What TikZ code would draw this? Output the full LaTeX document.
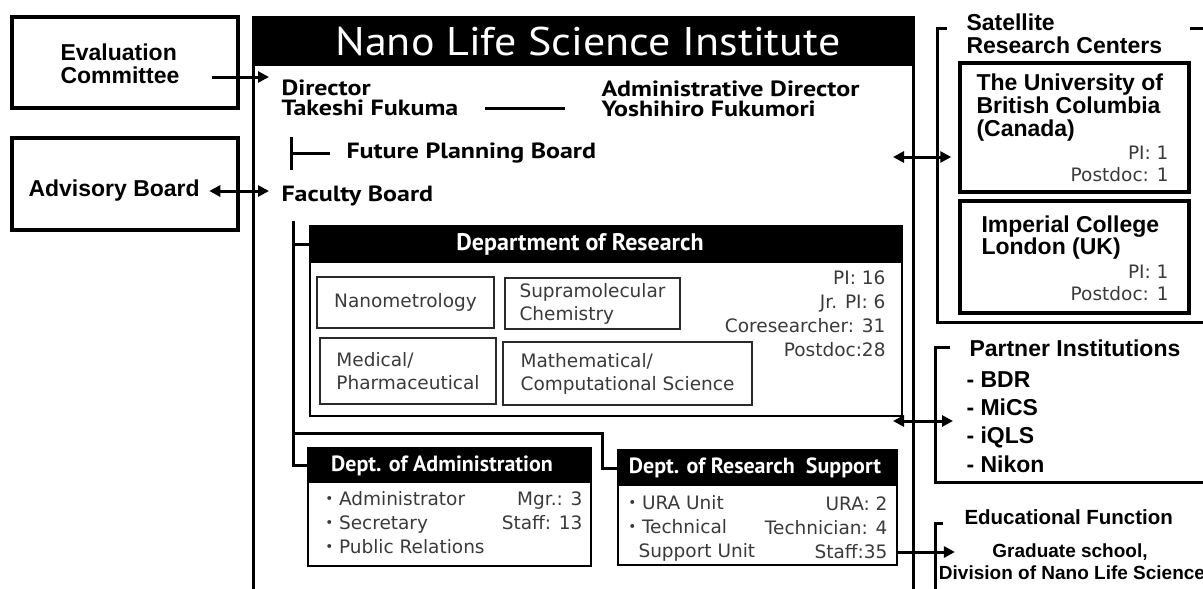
\documentclass[tikz,border=0pt]{standalone}
\usepackage{fontspec}
\setmainfont{DejaVu Sans}
\newfontfamily\headfont{PT Sans}
\newfontfamily\widefont{PT Sans}[FakeStretch=1.18]
\newfontfamily\titlefont{PT Sans}[FakeStretch=1.1]
\newfontfamily\arialfont{Liberation Sans}
\newfontfamily\cjk{Noto Sans CJK JP}
\usetikzlibrary{positioning, arrows.meta}
\definecolor{txtgray}{HTML}{3A3A3A}
\definecolor{linegray}{HTML}{2A2A2A}

\begin{document}
\begin{tikzpicture}[x=1pt, y=-1pt, line width=3pt,
  arr/.style={-{Triangle[length=11pt, width=11pt]}},
  arrboth/.style={{Triangle[length=11pt, width=11pt]}-{Triangle[length=11pt, width=11pt]}},
  outbox/.style={draw, line width=3.5pt, inner sep=0pt},
  deptbox/.style={draw, line width=2pt, inner sep=0pt},
  unitbox/.style={draw=linegray, line width=2pt, inner sep=0pt, text=txtgray, align=left,
    font=\fontsize{18.5}{23}\selectfont},
  bar/.style={fill=black, inner sep=0pt},
  bartext/.style={text=white, inner sep=0pt, font=\headfont\bfseries\fontsize{22}{24}\selectfont},
  head/.style={anchor=west, inner sep=0pt, align=left, font=\widefont\bfseries\fontsize{22}{20}\selectfont},
  side/.style={anchor=west, inner sep=0pt, align=left, font=\arialfont\bfseries\fontsize{23}{23}\selectfont},
  stat/.style={anchor=east, inner sep=0pt, align=right, text=txtgray, font=\fontsize{18.5}{24}\selectfont},
  list/.style={anchor=west, inner sep=0pt, align=left, text=txtgray, font=\fontsize{18.5}{24}\selectfont},
]
\useasboundingbox (0,0) rectangle (1203,589);

% committees outside the institute
\node[outbox, minimum width=226pt, minimum height=91pt] (eval) at (125,62.5) {};
\node[side] (evaltext) at (59,64) {Evaluation\\Committee};
\node[outbox, minimum width=226pt, minimum height=92pt] (adv) at (125,184) {};
\node[side] (advtext) at (27,191) {Advisory Board};

% institute frame
\draw (253,600) -- (253,17) -- (913,17) -- (913,600);
\node[bar, minimum width=660pt, minimum height=49pt] (title) at (583,41.5) {};
\node[text=white, inner sep=0pt, font=\titlefont\fontsize{40}{40}\selectfont] (titletext) at (588,41) {Nano Life Science Institute};

\node[head] (dirtitle) at (280,88) {Director};
\node[head] (dirname) at (280,108) {Takeshi Fukuma};
\node[head] (admtitle0) at (600,89) {Administrative Director};
\node[head] (admname) at (600,109) {Yoshihiro Fukumori};
\draw[shorten <=25pt, shorten >=35pt] (dirname.east) -- (dirname.east -| admname.west);

\node[head] (future) at (345,153) {Future Planning Board};
\coordinate (fpbtick) at (291,153);
\draw (fpbtick) ++(0,-16) -- ++(0,33);
\draw[shorten >=15pt] (fpbtick) -- (future.west);
\node[head] (fac) at (280,196) {Faculty Board};

\coordinate (evalout) at (212,77);
\draw[arr, shorten >=11pt] (evalout) -- (evalout -| dirtitle.west);
\draw[arrboth, shorten >=11pt, shorten <=8pt] (advtext.east) -- (advtext.east -| fac.west);

% department of research
\node[deptbox, minimum width=592pt, minimum height=190pt] (resbox) at (606,321) {};
\node[bar, minimum width=592pt, minimum height=37pt] (restitle) at (606,244.5) {};
\node[bartext, font=\headfont\bfseries\fontsize{24}{24}\selectfont] (reshead) at (580,244) {Department of Research};
\node[unitbox, minimum width=177pt, minimum height=51pt] (nano) at (405.5,302.5) {Nanometrology};
\node[unitbox, minimum width=175pt, minimum height=51pt] (supra) at (592.5,303.5) {Supramolecular\\Chemistry};
\node[unitbox, minimum width=176pt, minimum height=66pt] (med) at (408,371) {Medical/\\Pharmaceutical};
\node[unitbox, minimum width=249pt, minimum height=63pt] (math) at (627.5,373.5) {Mathematical/\\Computational Science};
\node[stat] (resstats) at (887,314) {PI: 16\\Jr. PI: 6\\Coresearcher: 31\\Postdoc:28};

% administration
\node[deptbox, minimum width=283pt, minimum height=118pt] (admbody) at (449.5,507) {};
\node[bar, minimum width=283pt, minimum height=35pt] (admtitle) at (449.5,465.5) {};
\node[bartext] (admhead) at (442,466) {Dept. of Administration};
\node[list] (admlist) at (319,523) {{\cjk ・}Administrator\\{\cjk ・}Secretary\\{\cjk ・}Public Relations};
\node[stat] (admstats) at (584,511) {Mgr.: 3\\Staff: 13};

% research support
\node[deptbox, minimum width=279pt, minimum height=115pt] (supbody) at (757.5,507.5) {};
\node[bar, minimum width=279pt, minimum height=36pt] (suptitle) at (757.5,468) {};
\node[bartext] (suphead) at (755,468) {Dept. of Research\ \ Support};
\node[list] (suplist) at (622,528) {{\cjk ・}URA Unit\\{\cjk ・}Technical\\\hspace{15pt}Support Unit};
\node[stat] (supstats) at (889,528) {URA: 2\\Technician: 4\\Staff:35};

% lines from the faculty board
\coordinate (trunk) at (293,221);
\draw (trunk) |- (admtitle.west);
\draw (trunk |- restitle.west) -- (restitle.west);
\coordinate (split) at (293,433);
\coordinate (bend) at (602,433);
\draw (split) -- (bend) |- (suptitle.west);

% satellite research centers
\node[side] (sat) at (965,33.5) {Satellite\\Research Centers};
\draw (947,28) -- (937,28) -- (937,322) -- (1210,322);
\draw (1190,28) -- (1210,28);
\node[outbox, minimum width=229pt, minimum height=129pt] (ubc) at (1074.5,127.5) {};
\node[side] (ubcname) at (975,108) {The University of\\British Columbia\\(Canada)};
\node[stat, font=\fontsize{18.5}{22}\selectfont] (ubcstats) at (1170,164) {PI: 1\\Postdoc: 1};
\node[outbox, minimum width=229pt, minimum height=112pt] (icl) at (1074.5,257) {};
\node[side, font=\arialfont\bfseries\fontsize{23}{21}\selectfont] (iclname) at (980,237.5) {Imperial College\\London (UK)};
\node[stat, font=\fontsize{18.5}{22}\selectfont] (iclstats) at (1170,282.5) {PI: 1\\Postdoc: 1};
\coordinate (satport) at (893,157);
\draw[arrboth, shorten >=7pt] (satport) -- (satport -| ubc.west);

% partner institutions
\node[side] (partner) at (968,348) {Partner Institutions};
\node[side, font=\arialfont\bfseries\fontsize{23}{28.3}\selectfont] (partnerlist) at (965,422) {- BDR\\- MiCS\\- iQLS\\- Nikon};
\draw (950,347) -- (935,347) -- (935,482) -- (1210,482);
\coordinate (partport) at (893,421);
\draw[arrboth, shorten >=12pt] (partport) -- (partport -| partnerlist.west);

% educational function
\node[side, font=\arialfont\bfseries\fontsize{20.5}{20}\selectfont] (edu) at (963,517) {Educational Function};
\draw (943,523) -- (935,523) -- (935,600);
\node[inner sep=0pt, font=\arialfont\bfseries\fontsize{19}{19}\selectfont] (grad) at (1070,552) {Graduate school,};
\node[inner sep=0pt, font=\arialfont\bfseries\fontsize{19}{19}\selectfont] (gradiv) at (1072,573) {Division of Nano Life Science};
\draw[arr, shorten >=36pt] (grad.west -| supbody.east) -- (grad.west);
\end{tikzpicture}
\end{document}
